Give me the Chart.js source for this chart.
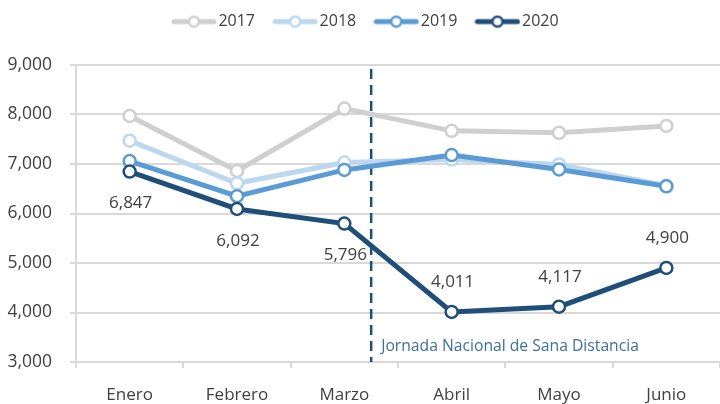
<!DOCTYPE html>
<html>
<head>
<meta charset="utf-8">
<script src="https://cdn.jsdelivr.net/npm/chart.js@4/dist/chart.umd.min.js"></script>
<style>
  html, body { margin: 0; padding: 0; background: #fff; }
  #wrap { width: 720px; height: 404px; }
</style>
</head>
<body>
<div id="wrap"><canvas id="chart"></canvas></div>
<script>
const months = ["Enero", "Febrero", "Marzo", "Abril", "Mayo", "Junio"];
const years = ["2017", "2018", "2019", "2020"];
const v2017 = [7970, 6860, 8120, 7670, 7630, 7770];
const v2018 = [7470, 6610, 7030, 7090, 6990, 6560];
const v2019 = [7060, 6350, 6880, 7180, 6890, 6550];
const v2020 = [6847, 6092, 5796, 4011, 4117, 4900];
const yTicks = [3000, 4000, 5000, 6000, 7000, 8000, 9000];
const markerLabel = "Jornada Nacional de Sana Distancia";
const markerAt = 2.25; // category index of the dashed line (between Marzo and Abril)
const labelSide = ["below", "below", "below", "above", "above", "above"];

const colors = ["#cfcfcf", "#bdd7ee", "#5b9bd5", "#1f4e79"];
const FONT = "'Open Sans', sans-serif";
const TEXT = "#404040";
const GRID = "#d9d9d9";

// legend swatch: thick line with a hollow circle in the middle
function swatch(color) {
  const c = document.createElement("canvas");
  c.width = 46; c.height = 14;
  const g = c.getContext("2d");
  g.strokeStyle = color;
  g.lineWidth = 5;
  g.lineCap = "round";
  g.beginPath(); g.moveTo(3, 7); g.lineTo(43, 7); g.stroke();
  g.fillStyle = "#fff";
  g.lineWidth = 2.5;
  g.beginPath(); g.arc(23, 7, 5, 0, Math.PI * 2); g.fill(); g.stroke();
  return c;
}
const swatches = colors.map(swatch);

const series = [v2017, v2018, v2019, v2020];
const datasets = series.map((data, i) => ({
  label: years[i],
  data,
  borderColor: colors[i],
  backgroundColor: "#fff",
  borderWidth: 5,
  pointRadius: 6,
  pointBorderWidth: 2.5,
  pointBackgroundColor: "#fff",
  pointBorderColor: colors[i],
  tension: 0,
  order: series.length - i
}));

const overlay = {
  id: "overlay",
  beforeInit(chart) {
    // fixed legend block height so the plot starts where the original does
    const fit = chart.legend.fit;
    chart.legend.fit = function () {
      fit.call(this);
      this.height = 75;
    };
  },
  afterLayout(chart) {
    // the original legend sits a little right of centre
    chart.legend.left += 8;
    chart.legend.right += 8;
  },
  beforeDatasetsDraw(chart) {
    const { ctx, chartArea, scales: { x } } = chart;
    const px = x.getPixelForValue(markerAt);
    ctx.save();
    ctx.strokeStyle = "#1f4e79";
    ctx.lineWidth = 2.5;
    ctx.setLineDash([10, 6]);
    ctx.beginPath();
    ctx.moveTo(px, chartArea.top + 4);
    ctx.lineTo(px, chartArea.bottom);
    ctx.stroke();
    ctx.setLineDash([]);
    ctx.fillStyle = "#3d6f9f";
    ctx.font = "15.7px " + FONT;
    ctx.textAlign = "left";
    ctx.textBaseline = "middle";
    ctx.fillText(markerLabel, px + 10, chartArea.bottom - 15);
    ctx.restore();
  },
  afterDatasetsDraw(chart) {
    const { ctx } = chart;
    const meta = chart.getDatasetMeta(3);
    ctx.save();
    ctx.fillStyle = TEXT;
    ctx.font = "17px " + FONT;
    ctx.textAlign = "center";
    ctx.textBaseline = "middle";
    meta.data.forEach((pt, i) => {
      const dy = labelSide[i] === "below" ? 32 : -30;
      ctx.fillText(v2020[i].toLocaleString("en-US"), pt.x + 1, pt.y + dy);
    });
    ctx.restore();
  }
};

new Chart(document.getElementById("chart"), {
  type: "line",
  data: { labels: months, datasets },
  plugins: [overlay],
  options: {
    responsive: true,
    maintainAspectRatio: false,
    animation: false,
    layout: { autoPadding: false, padding: { left: 0, right: 0, top: -10, bottom: 0 } },
    plugins: {
      tooltip: { enabled: false },
      legend: {
        position: "top",
        labels: {
          usePointStyle: true,
          pointStyleWidth: 33,
          boxHeight: 14,
          padding: 23.6,
          color: TEXT,
          font: { family: FONT, size: 16 },
          sort: (a, b) => a.datasetIndex - b.datasetIndex,
          generateLabels: chart => Chart.defaults.plugins.legend.labels.generateLabels(chart)
            .map(l => ({ ...l, pointStyle: swatches[l.datasetIndex] }))
        }
      }
    },
    scales: {
      x: {
        offset: true,
        grid: { offset: true, drawOnChartArea: false, drawTicks: true, tickLength: 6, color: GRID, lineWidth: 2 },
        border: { color: GRID, width: 2 },
        ticks: { color: TEXT, font: { family: FONT, size: 17 }, padding: 17 },
        afterFit: s => { s.height = 42; s.paddingLeft = 0; s.paddingRight = 0; }
      },
      y: {
        min: yTicks[0],
        max: yTicks[yTicks.length - 1],
        afterBuildTicks: s => { s.ticks = yTicks.map(v => ({ value: v })); },
        afterFit: s => { s.width = 76; },
        grid: { color: GRID, lineWidth: 2, tickLength: 6 },
        border: { color: GRID, width: 2 },
        ticks: {
          color: TEXT,
          font: { family: FONT, size: 17.5 },
          padding: 18,
          callback: v => v.toLocaleString("en-US")
        }
      }
    }
  }
});
</script>
</body>
</html>
